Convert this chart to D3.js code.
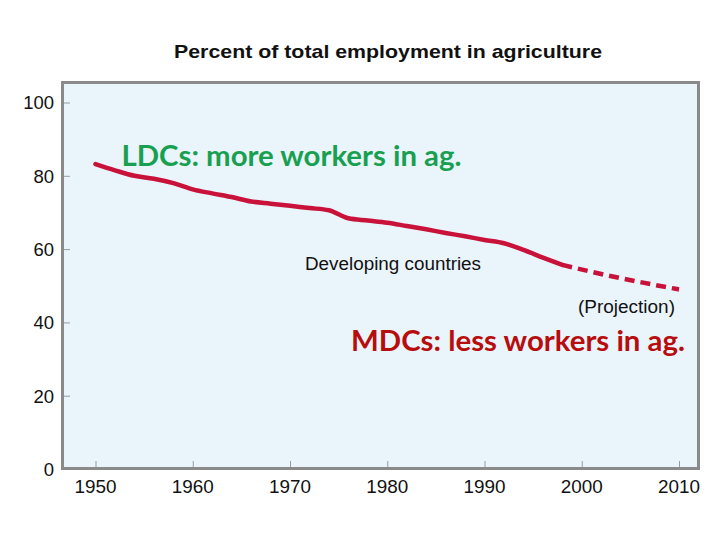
<!DOCTYPE html>
<html>
<head>
<meta charset="utf-8">
<script src="https://cdn.jsdelivr.net/npm/d3@7"></script>
<style>
html,body{margin:0;padding:0;background:#fff;}
svg{display:block;}
</style>
</head>
<body>
<svg id="chart" width="720" height="540"></svg>
<script>
// ---- data ----
const years = [1950,1952,1954,1956,1958,1960,1962,1964,1966,1968,1970,1972,1974,1976,1978,1980,1982,1984,1986,1988,1990,1992,1994,1996,1998];
const values = [83.2,81.5,80.0,79.2,78.0,76.3,75.2,74.2,73.0,72.4,71.8,71.2,70.6,68.4,67.8,67.2,66.3,65.4,64.4,63.5,62.5,61.6,59.8,57.7,55.7];
const projYears = [1998,2002,2006,2010];
const projValues = [55.7,53.2,51.0,49.0];
const xTicks = [1950,1960,1970,1980,1990,2000,2010];
const yTicks = [0,20,40,60,80,100];
const title = "Percent of total employment in agriculture";
const seriesLabel = "Developing countries";
const projLabel = "(Projection)";
const ldcNote = "LDCs: more workers in ag.";
const mdcNote = "MDCs: less workers in ag.";

const svg = d3.select("#chart");
const x = d3.scaleLinear().domain([1950, 2010]).range([95.5, 679]);
const y = d3.scaleLinear().domain([0, 100]).range([469, 102.5]);

// frame / background
svg.append("rect")
  .attr("x", 62.5).attr("y", 82.5)
  .attr("width", 698.5 - 62.5).attr("height", 468.5 - 82.5)
  .attr("fill", "#eaf4fb")
  .attr("stroke", "#8a8a8a").attr("stroke-width", 3);

// title
svg.append("text")
  .attr("x", 388).attr("y", 57.5)
  .attr("text-anchor", "middle")
  .attr("font-family", "Liberation Sans, Arial, sans-serif")
  .attr("font-weight", "bold").attr("font-size", 18.5)
  .attr("textLength", 428).attr("lengthAdjust", "spacingAndGlyphs")
  .attr("fill", "#111").text(title);

// x axis ticks and labels
const xAxis = d3.axisTop(x).tickValues(xTicks).tickSize(6).tickFormat(d3.format("d"));
const gx = svg.append("g").attr("transform", "translate(0,467)").call(xAxis);
gx.select(".domain").remove();
gx.selectAll(".tick line").attr("stroke", "#9a9a9a").attr("stroke-width", 1);
gx.selectAll(".tick text").remove();
svg.append("g").selectAll("text").data(xTicks).join("text")
  .attr("x", d => x(d)).attr("y", 493)
  .attr("text-anchor", "middle")
  .attr("font-family", "Liberation Sans, Arial, sans-serif")
  .attr("font-size", 18.5).attr("fill", "#111")
  .attr("textLength", 42).attr("lengthAdjust", "spacingAndGlyphs")
  .text(d => d);

// y axis ticks and labels
const yAxis = d3.axisRight(y).tickValues(yTicks.filter(d => d > 0)).tickSize(6);
const gy = svg.append("g").attr("transform", "translate(64,0)").call(yAxis);
gy.select(".domain").remove();
gy.selectAll(".tick line").attr("stroke", "#9a9a9a").attr("stroke-width", 1);
gy.selectAll(".tick text").remove();
svg.append("g").selectAll("text").data(yTicks).join("text")
  .attr("x", 54).attr("y", d => y(d) + 6.8)
  .attr("text-anchor", "end")
  .attr("font-family", "Liberation Sans, Arial, sans-serif")
  .attr("font-size", 18.5).attr("fill", "#111")
  .text(d => d);

// lines
const line = d3.line().x(d => x(d[0])).y(d => y(d[1])).curve(d3.curveMonotoneX);
svg.append("path")
  .datum(d3.zip(years, values))
  .attr("d", line)
  .attr("fill", "none").attr("stroke", "#c8123a")
  .attr("stroke-width", 4.5).attr("stroke-linecap", "round").attr("stroke-linejoin", "round");
svg.append("path")
  .datum(d3.zip(projYears, projValues))
  .attr("d", line)
  .attr("fill", "none").attr("stroke", "#c8123a")
  .attr("stroke-width", 4.5).attr("stroke-dasharray", "10,6");

// labels
svg.append("text")
  .attr("x", 305).attr("y", 270)
  .attr("font-family", "Liberation Sans, Arial, sans-serif")
  .attr("font-size", 17.5).attr("fill", "#111")
  .attr("textLength", 176).attr("lengthAdjust", "spacingAndGlyphs")
  .text(seriesLabel);
svg.append("text")
  .attr("x", 578).attr("y", 313)
  .attr("font-family", "Liberation Sans, Arial, sans-serif")
  .attr("font-size", 17.5).attr("fill", "#111")
  .attr("textLength", 97).attr("lengthAdjust", "spacingAndGlyphs")
  .text(projLabel);

svg.append("text")
  .attr("x", 121.5).attr("y", 166)
  .attr("font-family", "Lato, 'Open Sans', sans-serif")
  .attr("font-weight", "bold").attr("font-size", 28.5)
  .attr("textLength", 340).attr("lengthAdjust", "spacingAndGlyphs")
  .attr("fill", "#18a050").text(ldcNote);
svg.append("text")
  .attr("x", 351).attr("y", 350.5)
  .attr("font-family", "Lato, 'Open Sans', sans-serif")
  .attr("font-weight", "bold").attr("font-size", 28.5)
  .attr("textLength", 334).attr("lengthAdjust", "spacingAndGlyphs")
  .attr("fill", "#b80d0d").text(mdcNote);
</script>
</body>
</html>
